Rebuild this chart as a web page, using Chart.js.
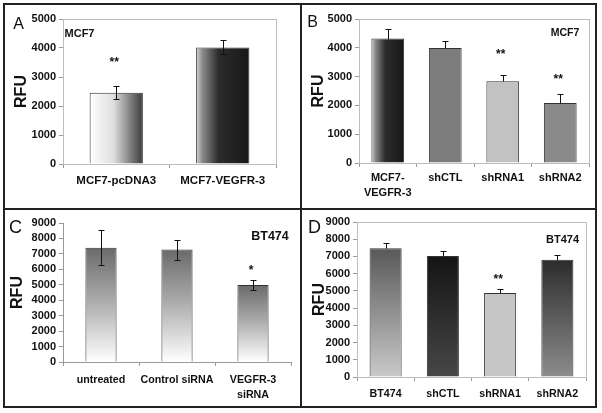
<!DOCTYPE html>
<html><head><meta charset="utf-8">
<script src="https://cdn.jsdelivr.net/npm/chart.js@4.4.1/dist/chart.umd.min.js"></script>
<style>
html,body{margin:0;padding:0;background:#fff;}
#wrap{position:relative;width:602px;height:413px;overflow:hidden;font-family:'Liberation Sans',Arial,sans-serif;}
canvas{position:absolute;left:0;top:0;}
.frame{position:absolute;left:3px;top:3px;width:594px;height:405px;border:2px solid #222;box-sizing:border-box;}
.vdiv{position:absolute;left:300px;top:3px;width:2px;height:405px;background:#222;}
.hdiv{position:absolute;left:3px;top:208px;width:594px;height:2px;background:#222;}
.t{position:absolute;transform:translate(-50%,-50%);line-height:1;white-space:nowrap;color:#111;}
.b{font-weight:bold;}
</style></head><body>
<div id="wrap">
  <canvas id="cA" width="602" height="460"></canvas>
  <canvas id="cB" width="602" height="460"></canvas>
  <canvas id="cC" width="602" height="460"></canvas>
  <canvas id="cD" width="602" height="460"></canvas>
  <div class="frame"></div>
  <div class="vdiv"></div>
  <div class="hdiv"></div>
  <div class="t" style="left:18.5px;top:23.5px;font-size:16px">A</div>
  <div class="t" style="left:312.5px;top:22px;font-size:16px">B</div>
  <div class="t" style="left:15.5px;top:226.5px;font-size:18px">C</div>
  <div class="t" style="left:314.5px;top:226.5px;font-size:18px">D</div>
  <div class="t b" style="left:79.5px;top:33px;font-size:11px">MCF7</div>
  <div class="t b" style="left:565px;top:32px;font-size:10.5px">MCF7</div>
  <div class="t b" style="left:270px;top:236px;font-size:12.5px">BT474</div>
  <div class="t b" style="left:562.5px;top:239px;font-size:11px">BT474</div>
</div>
<script>
// ---------- DATA ----------
const catA = ['MCF7-pcDNA3', 'MCF7-VEGFR-3'];
const valA = [2460, 4020];
const errA = [230, 240];
const starA = ['**', ''];

const catB = [['MCF7-', 'VEGFR-3'], 'shCTL', 'shRNA1', 'shRNA2'];
const valB = [4320, 3990, 2840, 2080];
const errB = [340, 250, 210, 310];
const starB = ['', '', '**', '**'];

const catC = ['untreated', 'Control siRNA', ['VEGFR-3', 'siRNA']];
const valC = [7390, 7280, 4990];
const errC = [1140, 650, 300];
const starC = ['', '', '*'];

const catD = ['BT474', 'shCTL', 'shRNA1', 'shRNA2'];
const valD = [7480, 7020, 4880, 6810];
const errD = [310, 280, 230, 290];
const starD = ['', '', '**', ''];

const ticksMCF7 = [0, 1000, 2000, 3000, 4000, 5000];
const ticksBT474 = [0, 1000, 2000, 3000, 4000, 5000, 6000, 7000, 8000, 9000];

// ---------- STYLE HELPERS ----------
const CH = 460; // canvas height (taller than page so bottom labels are not clipped)
Chart.defaults.font.family = "'Liberation Sans', Arial, sans-serif";
Chart.defaults.color = '#111';

function barBox(ctx, bp) {
  const ch = ctx.chart;
  if (ctx.dataIndex === undefined || !ch.chartArea || !ch.scales.x || !ch.scales.y) return null;
  const xs = ch.scales.x, ys = ch.scales.y;
  const n = ch.data.labels.length;
  const w = (xs.right - xs.left) / n * bp;
  const cx = xs.getPixelForValue(ctx.dataIndex);
  const v = ch.data.datasets[0].data[ctx.dataIndex];
  return { x0: cx - w / 2, x1: cx + w / 2, top: ys.getPixelForValue(v), base: ys.getPixelForValue(0) };
}
function fillFn(specs, bp) {
  return ctx => {
    const s = specs[ctx.dataIndex === undefined ? 0 : ctx.dataIndex];
    if (typeof s === 'string') return s;
    const b = barBox(ctx, bp);
    if (!b) return s.stops[0][1];
    const c = ctx.chart.ctx;
    const g = s.dir === 'h' ? c.createLinearGradient(b.x0, 0, b.x1, 0) : c.createLinearGradient(0, b.top, 0, b.base);
    s.stops.forEach(st => g.addColorStop(st[0], st[1]));
    return g;
  };
}
function errPlugin(errs, stars, both, gaps, starSize) {
  return {
    id: 'errorBars',
    afterDatasetsDraw(chart) {
      const c = chart.ctx, ys = chart.scales.y;
      const meta = chart.getDatasetMeta(0);
      const vals = chart.data.datasets[0].data;
      c.save();
      c.strokeStyle = '#111'; c.lineWidth = 1;
      meta.data.forEach((bar, i) => {
        const x = Math.round(bar.x) + 0.5;
        const yT = Math.round(ys.getPixelForValue(vals[i] + errs[i])) + 0.5;
        const yB = Math.round(ys.getPixelForValue(both ? vals[i] - errs[i] : vals[i])) + 0.5;
        c.beginPath();
        c.moveTo(x, yT); c.lineTo(x, yB);
        c.moveTo(x - 3, yT); c.lineTo(x + 3, yT);
        if (both) { c.moveTo(x - 3, yB); c.lineTo(x + 3, yB); }
        c.stroke();
        if (stars[i]) {
          c.fillStyle = '#111';
          c.font = 'bold ' + starSize + "px 'Liberation Sans', Arial, sans-serif";
          c.textAlign = 'center'; c.textBaseline = 'middle';
          c.fillText(stars[i], bar.x - 2, yT - gaps[i]);
        }
      });
      c.restore();
    }
  };
}
function framePlugin(color) {
  return {
    id: 'plotFrame',
    beforeDatasetsDraw(chart) {
      const c = chart.ctx, a = chart.chartArea;
      c.save(); c.strokeStyle = color; c.lineWidth = 1;
      c.strokeRect(Math.round(a.left) + 0.5, Math.round(a.top) + 0.5, Math.round(a.right - a.left), Math.round(a.bottom - a.top));
      c.restore();
    }
  };
}

function makeChart(id, cats, vals, errs, stars, yt, g) {
  const plugins = [errPlugin(errs, stars, g.both, g.gaps, g.starSize)];
  if (g.frame) plugins.unshift(framePlugin(g.frame));
  return new Chart(document.getElementById(id), {
    type: 'bar',
    data: { labels: cats, datasets: [{ data: vals,
      backgroundColor: fillFn(g.fills, g.bp),
      borderColor: '#333', borderWidth: 1,
      barPercentage: g.bp, categoryPercentage: 1 }] },
    options: {
      responsive: false, animation: false, events: [],
      layout: { padding: { left: g.pL, right: 602 - g.r, top: g.t, bottom: CH - g.b - 50 } },
      plugins: { legend: { display: false }, tooltip: { enabled: false } },
      scales: {
        x: {
          offset: true,
          afterFit: s => { s.height = 50; },
          ticks: { font: { size: g.xFont, weight: 'bold', lineHeight: g.xLH }, color: '#111', padding: g.xPad, maxRotation: 0, autoSkip: false },
          grid: { display: true, drawOnChartArea: false, drawTicks: true, tickLength: 4, color: '#999', offset: true },
          border: { display: true, color: g.axis }
        },
        y: {
          min: 0, max: yt[yt.length - 1],
          afterBuildTicks: s => { s.ticks = yt.map(v => ({ value: v })); },
          afterFit: s => { s.width = g.l - g.pL; },
          ticks: { font: { size: 11, weight: 'bold' }, color: '#111', padding: 3, autoSkip: false, callback: v => String(v) },
          grid: { display: true, drawOnChartArea: false, drawTicks: true, tickLength: 4, color: '#999' },
          border: { display: true, color: g.axis },
          title: { display: true, text: 'RFU', font: { size: 16, weight: 'bold' }, color: '#111', padding: { top: g.tPad, bottom: 0 } }
        }
      }
    },
    plugins
  });
}

const gradDarkH = { dir: 'h', stops: [[0, '#d0d0d0'], [0.12, '#8a8a8a'], [0.42, '#2c2c2c'], [1, '#171717']] };
const gradC = { dir: 'v', stops: [[0, '#6a6a6a'], [0.45, '#a9a9a9'], [1, '#ffffff']] };

makeChart('cA', catA, valA, errA, starA, ticksMCF7, {
  pL: 6, l: 63, r: 276, t: 19, b: 164, tPad: 6.4, bp: 0.5, xFont: 11.5, xLH: 1.2, xPad: 6,
  both: true, gaps: [24, 0], starSize: 12, frame: '#bdbdbd', axis: '#bdbdbd',
  fills: [{ dir: 'h', stops: [[0, '#ffffff'], [0.45, '#dedede'], [1, '#3a3a3a']] }, gradDarkH]
});
makeChart('cB', catB, valB, errB, starB, ticksMCF7, {
  pL: 303, l: 359, r: 589, t: 19, b: 163, tPad: 6.4, bp: 0.57, xFont: 11, xLH: 1.35, xPad: 4,
  both: false, gaps: [0, 0, 21, 15], starSize: 12, frame: '#bdbdbd', axis: '#bdbdbd',
  fills: [gradDarkH, '#7c7c7c', '#c2c2c2', '#8a8a8a']
});
makeChart('cC', catC, valC, errC, starC, ticksBT474, {
  pL: 6, l: 63, r: 291, t: 223, b: 362, tPad: 2.4, bp: 0.41, xFont: 10.7, xLH: 1.4, xPad: 7,
  both: true, gaps: [0, 0, 10], starSize: 12, frame: null, axis: '#999',
  fills: [gradC, gradC, gradC]
});
makeChart('cD', catD, valD, errD, starD, ticksBT474, {
  pL: 303, l: 357, r: 586, t: 222, b: 377, tPad: 7.4, bp: 0.56, xFont: 10.7, xLH: 1.2, xPad: 7,
  both: false, gaps: [0, 0, 10, 0], starSize: 12, frame: '#bdbdbd', axis: '#bdbdbd',
  fills: [{ dir: 'v', stops: [[0, '#585858'], [1, '#c9c9c9']] },
          { dir: 'v', stops: [[0, '#141414'], [1, '#474747']] },
          '#c6c6c6',
          { dir: 'v', stops: [[0, '#2c2c2c'], [1, '#8c8c8c']] }]
});
</script>
</body></html>
